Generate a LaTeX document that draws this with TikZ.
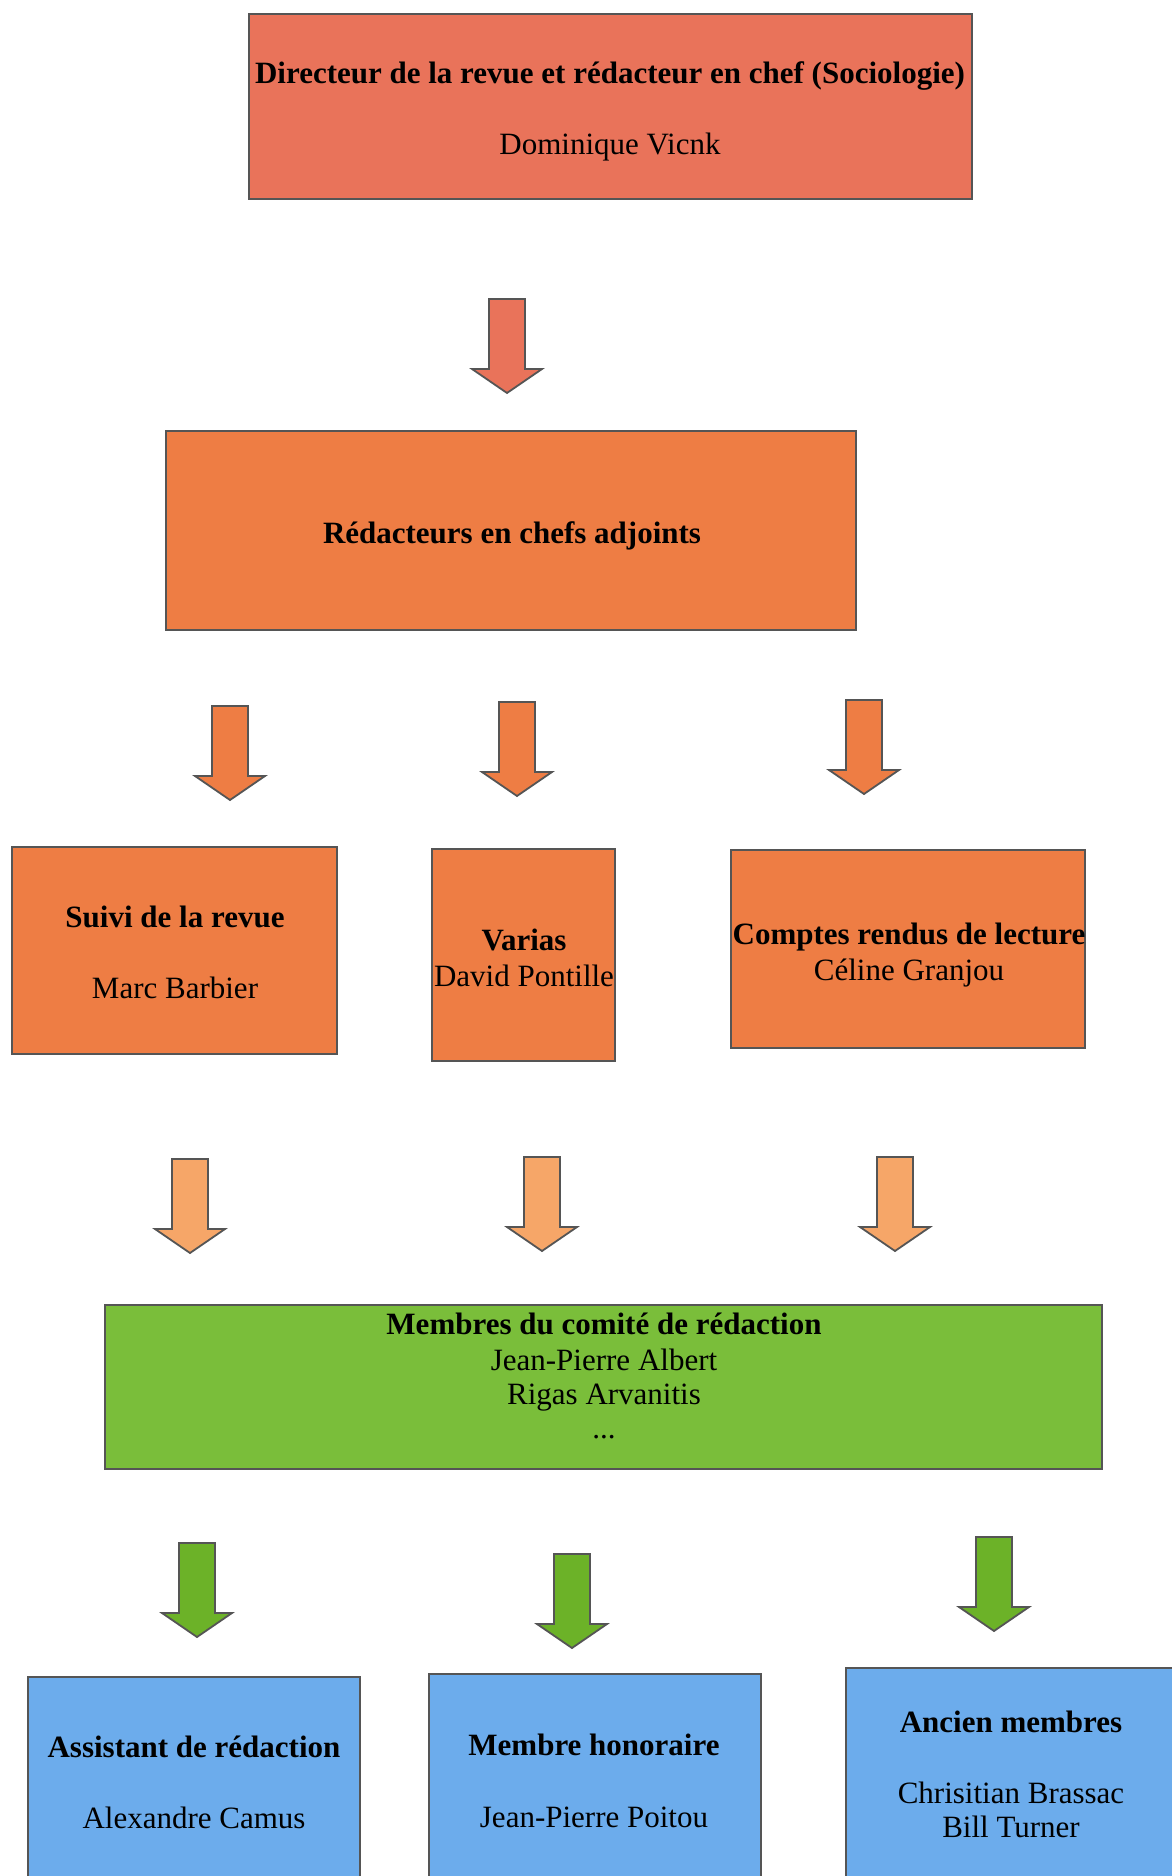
\documentclass[tikz,border=0pt]{standalone}
\usepackage{fontspec}
\setmainfont{Liberation Serif}
\definecolor{salmon}{RGB}{233,115,90}
\definecolor{orng}{RGB}{238,125,68}
\definecolor{peach}{RGB}{246,166,104}
\definecolor{grn}{RGB}{122,190,58}
\definecolor{grnarrow}{RGB}{108,178,40}
\definecolor{blu}{RGB}{108,172,236}
\definecolor{edge}{RGB}{85,85,85}
\tikzset{
  box/.style={draw=edge, line width=2pt, rectangle, inner sep=0pt, outer sep=0pt},
  txt/.style={font=\fontsize{31}{36}\selectfont, align=center, inner sep=0pt, text=black, anchor=base},
  btxt/.style={txt, font=\fontsize{31}{36}\selectfont\bfseries},
  barrow/.pic={\draw[pic actions, line width=1.8pt, line join=miter]
     (-18,0) -- (18,0) -- (18,70) -- (35,70) -- (0,94) -- (-35,70) -- (-18,70) -- cycle;}
}
\begin{document}
\begin{tikzpicture}[x=1pt,y=-1pt]
\useasboundingbox (0,0) rectangle (1171,1876);
% boxes
\node[box, fill=salmon, minimum width=723, minimum height=185] (top) at (610.5,106.5) {};
\node[box, fill=orng, minimum width=690, minimum height=199] (adj) at (511,530.5) {};
\node[box, fill=orng, minimum width=325, minimum height=207] (suivi) at (174.5,950.5) {};
\node[box, fill=orng, minimum width=183, minimum height=212] (varias) at (523.5,955) {};
\node[box, fill=orng, minimum width=354, minimum height=198] (comptes) at (908,949) {};
\node[box, fill=grn, minimum width=997, minimum height=164] (comite) at (603.5,1387) {};
\node[box, fill=blu, minimum width=332, minimum height=240] (assist) at (194,1797) {};
\node[box, fill=blu, minimum width=332, minimum height=240] (honor) at (595,1794) {};
\node[box, fill=blu, minimum width=344, minimum height=240] (ancien) at (1018,1788) {};
% texts (baselines)
\node[btxt] (t1) at (610,84) {Directeur de la revue et rédacteur en chef (Sociologie)};
\node[txt] (n1) at (610,154) {Dominique Vicnk};
\node[btxt] (t2) at (512,543) {Rédacteurs en chefs adjoints};
\node[btxt] (t3) at (175,927) {Suivi de la revue};
\node[txt] (n3) at (175,998) {Marc Barbier};
\node[btxt] (t4) at (524,950) {Varias};
\node[txt] (n4) at (524,986) {David Pontille};
\node[btxt] (t5) at (909,944) {Comptes rendus de lecture};
\node[txt] (n5) at (909,980) {Céline Granjou};
\node[btxt] (t6) at (604,1334) {Membres du comité de rédaction};
\node[txt] (n6a) at (604,1370) {Jean-Pierre Albert};
\node[txt] (n6b) at (604,1404) {Rigas Arvanitis};
\node[txt] (n6c) at (604,1438) {...};
\node[btxt] (t7) at (194,1757) {Assistant de rédaction};
\node[txt] (n7) at (194,1828) {Alexandre Camus};
\node[btxt] (t8) at (594,1755) {Membre honoraire};
\node[txt] (n8) at (594,1827) {Jean-Pierre Poitou};
\node[btxt] (t9) at (1011,1732) {Ancien membres};
\node[txt] (n9a) at (1011,1803) {Chrisitian Brassac};
\node[txt] (n9b) at (1011,1837) {Bill Turner};
% arrows
\pic[fill=salmon, draw=edge] at (507,299) {barrow};
\pic[fill=orng, draw=edge] at (230,706) {barrow};
\pic[fill=orng, draw=edge] at (517,702) {barrow};
\pic[fill=orng, draw=edge] at (864,700) {barrow};
\pic[fill=peach, draw=edge] at (190,1159) {barrow};
\pic[fill=peach, draw=edge] at (542,1157) {barrow};
\pic[fill=peach, draw=edge] at (895,1157) {barrow};
\pic[fill=grnarrow, draw=edge] at (197,1543) {barrow};
\pic[fill=grnarrow, draw=edge] at (572,1554) {barrow};
\pic[fill=grnarrow, draw=edge] at (994,1537) {barrow};
\end{tikzpicture}
\end{document}
